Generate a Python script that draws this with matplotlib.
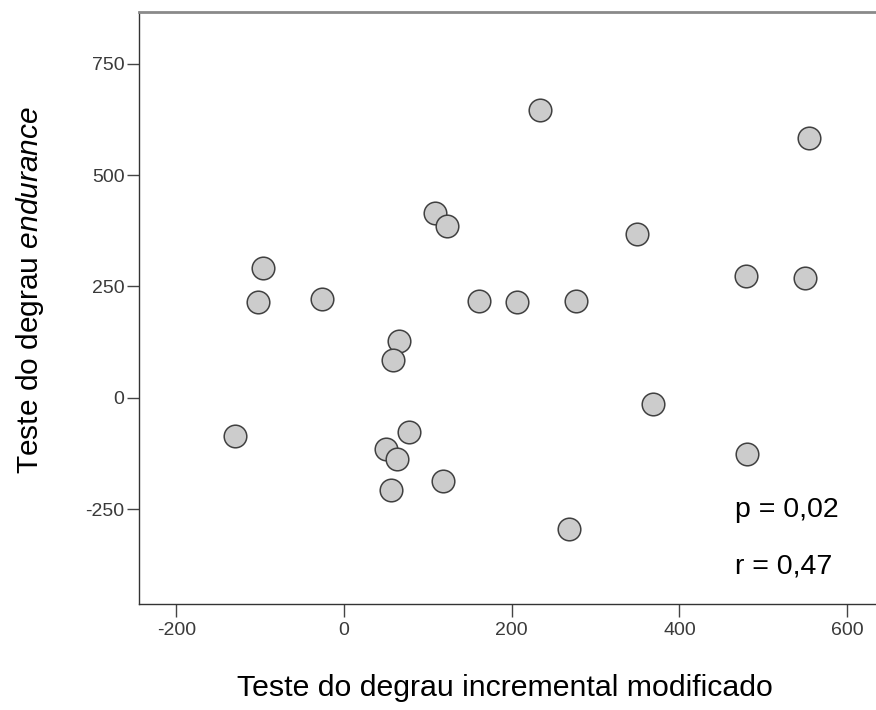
import matplotlib
matplotlib.use("Agg")
import matplotlib.pyplot as plt
import numpy as np

# dados
incremental = [234.0, 554.4, 108.9, 122.8, 349.3, -96.9, -102.9, -25.9, 161.3, 206.3,
               276.2, 479.3, 550.0, 65.6, 58.4, -130.3, 77.9, 50.4, 63.2, 118.0,
               56.0, 368.4, 480.8, 268.3]
endurance = [645.7, 583.6, 414.1, 385.0, 367.7, 292.2, 214.6, 221.3, 218.2, 215.2,
             218.2, 274.2, 269.7, 127.1, 85.9, -85.2, -75.6, -113.7, -137.4, -186.1,
             -206.3, -14.1, -126.2, -294.4]
xticks = [-200, 0, 200, 400, 600]
yticks = [-250, 0, 250, 500, 750]
stats = ["p = 0,02", "r = 0,47"]

plt.rcParams['font.family'] = ['Liberation Sans', 'DejaVu Sans']
plt.rcParams['mathtext.fontset'] = 'custom'
plt.rcParams['mathtext.it'] = 'Liberation Sans:italic'
plt.rcParams['mathtext.rm'] = 'Liberation Sans'

fig = plt.figure(figsize=(8.76, 7.10), dpi=100)
ax = fig.add_axes([139/876, 1-604.3/710, 1-139/876, (604.3-12)/710])

ax.scatter(incremental, endurance, s=265, c='#cccccc', edgecolors='#404040',
           linewidths=1.1, zorder=3)

ax.set_xlim(-244.4, 634.3)
ax.set_ylim(-462.6, 865.5)
ax.set_xticks(xticks)
ax.set_yticks(yticks)
ax.set_xticklabels([str(t) for t in xticks], fontsize=14, color='#3a3a3a')
ax.set_yticklabels([str(t) for t in yticks], fontsize=14, color='#3a3a3a')
ax.tick_params(direction='out', length=9, width=1, color='#444444')
ax.tick_params(axis='x', pad=3.5)
ax.tick_params(axis='y', pad=1.5)

ax.spines['right'].set_visible(False)
ax.spines['top'].set_color('#8a8a8a')
ax.spines['top'].set_linewidth(2)
for s in ['left', 'bottom']:
    ax.spines[s].set_color('#333333')
    ax.spines[s].set_linewidth(1)

ax.text(466, -251, stats[0], fontsize=20.5, va='center', ha='left')
ax.text(466, -377, stats[1], fontsize=20.5, va='center', ha='left')

fig.text(505/876, 1-688/710, "Teste do degrau incremental modificado", fontsize=21.8,
         ha='center', va='center')
fig.text(30/876, 1-290/710, "Teste do degrau $\\mathit{endurance}$", fontsize=21.5,
         ha='center', va='center', rotation=90)

fig.savefig("out.png", dpi=100)
